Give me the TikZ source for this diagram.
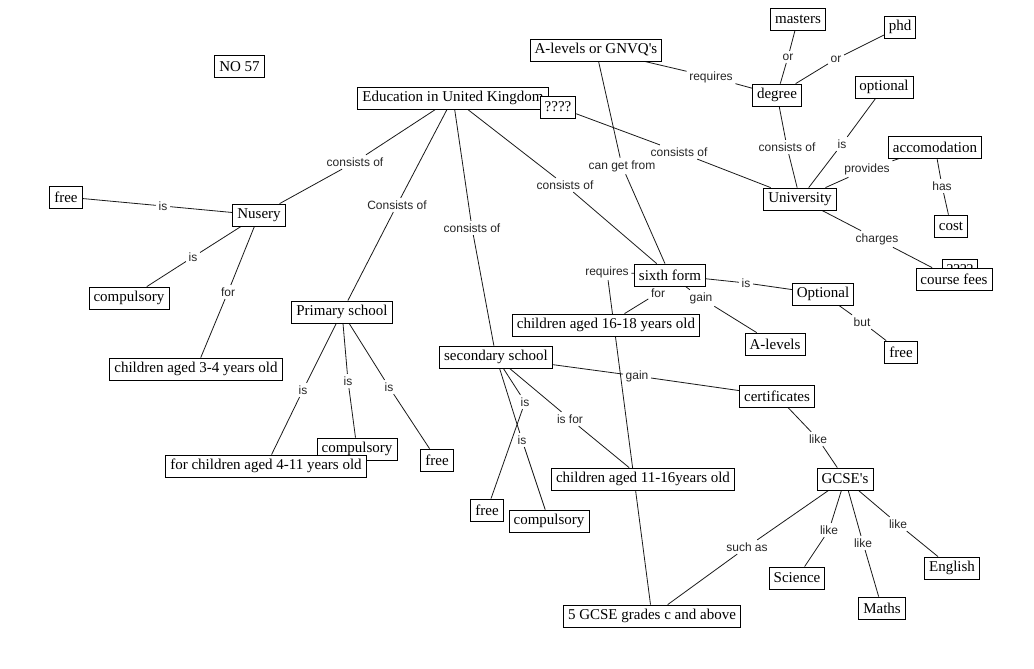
\documentclass[tikz,border=0pt]{standalone}
\usepackage{fontspec}
\setmainfont{Liberation Serif}
\newfontfamily\labfont{Liberation Sans}
\pgfdeclarelayer{bg}
\pgfsetlayers{bg,main}
\tikzset{
  box/.style={draw, fill=white, line width=0.8pt, inner xsep=4.5pt, inner ysep=2pt,
    minimum height=22pt, font=\fontsize{15}{17}\selectfont},
  lab/.style={inner sep=2.5pt, font=\labfont\fontsize{12}{14}\selectfont, text=black!85},
  con/.style={line width=0.8pt, black!90}
}
\begin{document}
\begin{tikzpicture}[x=1pt, y=-1pt]
\useasboundingbox (0,0) rectangle (1034,669);
% concept boxes
\node[box] (n57) at (239.5,66.5) {NO 57};
\node[box] (edu) at (453,98) {Education in United Kingdom};
\node[box] (q1) at (558,107) {????};
\node[box] (alev) at (596,50) {A-levels or GNVQ\textquotesingle s};
\node[box] (masters) at (798,19) {masters};
\node[box] (phd) at (900,27) {phd};
\node[box] (degree) at (777,95) {degree};
\node[box] (optional) at (884,87) {optional};
\node[box] (accom) at (935,147) {accomodation};
\node[box] (univ) at (800,199) {University};
\node[box] (cost) at (951,226) {cost};
\node[box] (q2) at (960,270) {????};
\node[box] (fees) at (954,279) {course fees};
\node[box] (free1) at (66,197) {free};
\node[box] (nus) at (259,215) {Nusery};
\node[box] (comp1) at (129,298) {compulsory};
\node[box] (ch34) at (196,369) {children aged 3-4 years old};
\node[box] (prim) at (342,312) {Primary school};
\node[box] (comp2) at (357,449) {compulsory};
\node[box] (ch411) at (266,466) {for children aged 4-11 years old};
\node[box] (free2) at (437,460) {free};
\node[box] (sec) at (496,357) {secondary school};
\node[box] (free3) at (487,510) {free};
\node[box] (comp3) at (549,521) {compulsory};
\node[box] (ch1116) at (643,479) {children aged 11-16years old};
\node[box] (sixth) at (670,275) {sixth form};
\node[box] (ch1618) at (606,325) {children aged 16-18 years old};
\node[box] (opt2) at (823,294) {Optional};
\node[box] (alev2) at (775,344) {A-levels};
\node[box] (free4) at (901,352) {free};
\node[box] (cert) at (777,396) {certificates};
\node[box] (gcse) at (845,479) {GCSE\textquotesingle s};
\node[box] (sci) at (797,578) {Science};
\node[box] (maths) at (882,608) {Maths};
\node[box] (eng) at (952,568) {English};
\node[box] (five) at (652,616) {5 GCSE grades c and above};
% linking phrases
\node[lab] (lNus) at (355,162) {consists of};
\node[lab] (lFree1) at (163,206) {is};
\node[lab] (lComp1) at (193,257) {is};
\node[lab] (lFor1) at (228,292) {for};
\node[lab] (lPrim) at (397,205) {Consists of};
\node[lab] (lSec) at (472,228) {consists of};
\node[lab] (lSix) at (565,185) {consists of};
\node[lab] (lUni) at (679,152) {consists of};
\node[lab] (lCan) at (622,166) {can get from};
\node[lab] (lReqD) at (711,77) {requires};
\node[lab] (lOr1) at (788,57) {or};
\node[lab] (lOr2) at (836,59) {or};
\node[lab] (lDeg) at (787,147) {consists of};
\node[lab] (lOpt) at (842,144) {is};
\node[lab] (lProv) at (867,169) {provides};
\node[lab] (lHas) at (942,186) {has};
\node[lab] (lChg) at (877,239) {charges};
\node[lab] (lReq5) at (607,272) {requires};
\node[lab] (lFor2) at (658,293) {for};
\node[lab] (lGain1) at (701,298) {gain};
\node[lab] (lIs6) at (746,283) {is};
\node[lab] (lBut) at (862,322) {but};
\node[lab] (lP1) at (303,390) {is};
\node[lab] (lP2) at (348,381) {is};
\node[lab] (lP3) at (389,387) {is};
\node[lab] (lS1) at (525,402) {is};
\node[lab] (lS2) at (522,440) {is};
\node[lab] (lIsFor) at (570,419) {is for};
\node[lab] (lGain2) at (637,376) {gain};
\node[lab] (lLike0) at (818,439) {like};
\node[lab] (lSuch) at (747,547) {such as};
\node[lab] (lL1) at (829,530) {like};
\node[lab] (lL2) at (863,543) {like};
\node[lab] (lL3) at (898,524) {like};
% connectors
\begin{pgfonlayer}{bg}
\draw[con] (edu) -- (lNus) -- (nus);
\draw[con] (nus) -- (lFree1) -- (free1);
\draw[con] (nus) -- (lComp1) -- (comp1);
\draw[con] (nus) -- (lFor1) -- (ch34);
\draw[con] (edu) -- (lPrim) -- (prim);
\draw[con] (edu) -- (lSec) -- (sec);
\draw[con] (edu) -- (lSix) -- (sixth);
\draw[con] (q1) -- (lUni) -- (univ);
\draw[con] (alev) -- (lCan) -- (sixth);
\draw[con] (alev) -- (lReqD) -- (degree);
\draw[con] (degree) -- (lOr1) -- (masters);
\draw[con] (degree) -- (lOr2) -- (phd);
\draw[con] (degree) -- (lDeg) -- (univ);
\draw[con] (univ) -- (lOpt) -- (optional);
\draw[con] (univ) -- (lProv) -- (accom);
\draw[con] (accom) -- (lHas) -- (cost);
\draw[con] (univ) -- (lChg) -- (fees);
\draw[con] (sixth) -- (lReq5) -- (five);
\draw[con] (sixth) -- (lFor2) -- (ch1618);
\draw[con] (sixth) -- (lGain1) -- (alev2);
\draw[con] (sixth) -- (lIs6) -- (opt2);
\draw[con] (opt2) -- (lBut) -- (free4);
\draw[con] (prim) -- (lP1) -- (ch411);
\draw[con] (prim) -- (lP2) -- (comp2);
\draw[con] (prim) -- (lP3) -- (free2);
\draw[con] (sec) -- (lS1) -- (free3);
\draw[con] (sec) -- (lS2) -- (comp3);
\draw[con] (sec) -- (lIsFor) -- (ch1116);
\draw[con] (sec) -- (lGain2) -- (cert);
\draw[con] (cert) -- (lLike0) -- (gcse);
\draw[con] (gcse) -- (lSuch) -- (five);
\draw[con] (gcse) -- (lL1) -- (sci);
\draw[con] (gcse) -- (lL2) -- (maths);
\draw[con] (gcse) -- (lL3) -- (eng);
\end{pgfonlayer}
\end{tikzpicture}
\end{document}
